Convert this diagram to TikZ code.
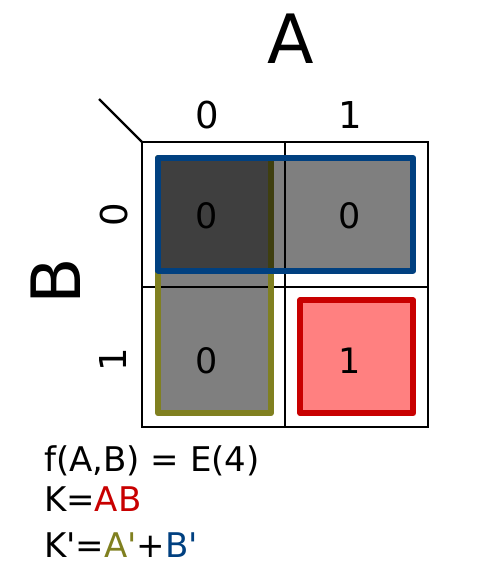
\documentclass[tikz,border=0pt]{standalone}
\usepackage{fontspec}
\setmainfont{DejaVu Sans}[Ligatures=TeXOff]
\definecolor{kblue}{RGB}{0,64,128}
\definecolor{kolive}{RGB}{128,128,32}
\definecolor{kred}{RGB}{200,0,0}
\definecolor{kpink}{RGB}{255,128,128}
\begin{document}
\begin{tikzpicture}[x=1pt,y=-1pt,
  lbl/.style={font=\fontsize{37}{40}\selectfont, inner sep=0pt, anchor=base},
  cellnum/.style={font=\fontsize{35}{40}\selectfont, inner sep=0pt, anchor=base},
  big/.style={font=\fontsize{68}{80}\selectfont, inner sep=0pt, anchor=base},
  eqn/.style={font=\fontsize{34}{40}\selectfont, inner sep=0pt, anchor=base west},
  gridline/.style={line width=2.4pt},
  grp/.style={line width=6pt, line join=round, fill=black, fill opacity=0.5}]
\useasboundingbox (0,0) rectangle (500,572);
% grid
\coordinate (tl) at (142,142);
\coordinate (br) at (428,427);
\coordinate (diag) at (99,99);
\draw[gridline] (tl) rectangle (br);
\draw[gridline] (285,142) -- (285,427);
\draw[gridline] (142,287) -- (428,287);
\draw[gridline] (diag) -- (tl);
% groups
\draw[grp, draw=kolive] (158,158) rectangle (271,413.2);
\draw[grp, draw=kblue] (158,158) rectangle (413.2,270.5);
\draw[line width=6pt, line join=round, draw=kred, fill=kpink] (300.3,300.3) rectangle (413.2,413.2);
% variable names
\node[big] (A) at (290.5,63.3) {A};
\node[big, rotate=90] (B) at (80,281.5) {B};
% column / row labels
\node[lbl] (c0) at (207,128.5) {0};
\node[lbl] (c1) at (350,128.5) {1};
\node[lbl, rotate=90] (r0) at (127.5,215) {0};
\node[lbl, rotate=90] (r1) at (126.5,360) {1};
% cells
\node[cellnum] (m00) at (207,228.5) {0};
\node[cellnum] (m10) at (350,228.5) {0};
\node[cellnum] (m01) at (207,373) {0};
\node[cellnum] (m11) at (350,373) {1};
% equations
\node[eqn] (e1) at (44,471.7) {f(A,B) = E(4)};
\node[eqn] (e2) at (44,511.7) {K=\textcolor{kred}{AB}};
\node[eqn] (e3) at (44,557.5) {K'=\textcolor{kolive}{A'}+\textcolor{kblue}{B'}};
\end{tikzpicture}
\end{document}
